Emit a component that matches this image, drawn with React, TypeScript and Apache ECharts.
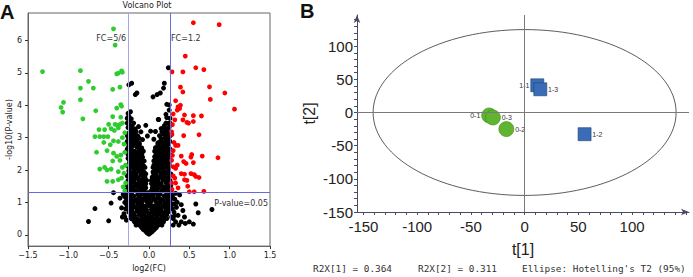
import React, { useEffect, useRef } from "react";
import * as echarts from "echarts";

// ---------- Panel A: volcano plot data (log2 FC, -log10 P) ----------
const volcanoYTicks = [0, 1, 2, 3, 4, 5, 6];
const fcDown = -0.263; // log2(5/6)
const fcUp = 0.263; // log2(1.2)
const pCut = 1.301; // -log10(0.05)

const blackPts: [number, number][] = [
  [0.0, 0.02], [-0.02, 0.05], [0.02, 0.06], [-0.04, 0.1], [0.04, 0.1], [0.0, 0.12], [-0.07, 0.16], [0.06, 0.15], [-0.02, 0.18], [0.03, 0.2], [-0.09, 0.22], [0.09, 0.22], [-0.05, 0.25], [0.05, 0.26], [0.0, 0.28], [-0.11, 0.28], [0.11, 0.29],
  [-0.14, 0.32], [0.13, 0.33], [-0.08, 0.34], [0.08, 0.35], [-0.03, 0.36], [0.02, 0.38], [-0.16, 0.38], [0.16, 0.39], [-0.11, 0.41], [0.11, 0.42], [-0.06, 0.44], [0.06, 0.44], [-0.19, 0.45], [0.18, 0.45], [0.0, 0.47], [-0.14, 0.48], [0.14, 0.49], [-0.09, 0.51], [0.09, 0.52], [-0.21, 0.53], [0.2, 0.53], [-0.03, 0.55], [0.04, 0.56], [-0.17, 0.57], [0.16, 0.58],
  [-0.23, 0.61], [0.22, 0.61], [-0.12, 0.62], [0.12, 0.63], [-0.06, 0.64], [0.07, 0.65], [0.0, 0.66], [-0.19, 0.67], [0.18, 0.68], [-0.25, 0.7], [0.24, 0.71], [-0.15, 0.72], [0.15, 0.73], [-0.09, 0.74], [0.09, 0.75], [-0.03, 0.77], [0.03, 0.78], [-0.21, 0.79], [0.21, 0.8], [-0.27, 0.82], [0.26, 0.82], [-0.12, 0.83], [0.12, 0.84], [-0.17, 0.86], [0.17, 0.87], [-0.06, 0.88], [0.06, 0.89], [0.0, 0.9], [-0.24, 0.91], [0.24, 0.92], [-0.28, 0.95], [0.28, 0.95], [-0.14, 0.96], [0.14, 0.97], [-0.2, 0.98], [0.2, 0.99],
  [-0.09, 1.0], [0.09, 1.01], [-0.03, 1.03], [0.03, 1.04], [-0.26, 1.05], [0.26, 1.05], [-0.17, 1.07], [0.17, 1.08], [-0.22, 1.1], [0.22, 1.11], [-0.11, 1.12], [0.11, 1.13], [-0.29, 1.15], [0.29, 1.14], [-0.05, 1.16], [0.05, 1.17], [-0.19, 1.19], [0.19, 1.2], [-0.25, 1.22], [0.25, 1.23], [-0.14, 1.24], [0.14, 1.25], [-0.08, 1.27], [0.08, 1.28], [-0.28, 1.3], [0.27, 1.3], [-0.21, 1.32], [0.21, 1.33], [-0.02, 1.3], [0.02, 1.34], [-0.16, 1.36], [0.16, 1.37], [-0.1, 1.39], [0.1, 1.4], [-0.25, 1.4], [0.24, 1.41],
  [-0.07, 1.43], [-0.13, 1.45], [-0.19, 1.47], [-0.23, 1.5], [-0.27, 1.52], [-0.09, 1.55], [-0.16, 1.57], [-0.21, 1.6], [-0.26, 1.62], [-0.06, 1.64], [-0.12, 1.66], [-0.18, 1.69], [-0.24, 1.72], [-0.08, 1.74], [-0.14, 1.77], [-0.2, 1.8], [-0.27, 1.82], [-0.1, 1.85], [-0.16, 1.88], [-0.22, 1.91], [-0.06, 1.93], [-0.13, 1.96], [-0.25, 1.98],
  [0.06, 1.44], [0.12, 1.46], [0.18, 1.48], [0.23, 1.51], [0.27, 1.53], [0.08, 1.56], [0.15, 1.58], [0.21, 1.61], [0.25, 1.63], [0.05, 1.65], [0.11, 1.67], [0.17, 1.7], [0.23, 1.73], [0.07, 1.75], [0.13, 1.78], [0.19, 1.81], [0.26, 1.83], [0.09, 1.86], [0.15, 1.89], [0.21, 1.92], [0.05, 1.94], [0.12, 1.97], [0.24, 1.99],
  [-0.09, 2.02], [-0.15, 2.05], [-0.21, 2.08], [-0.26, 2.11], [-0.07, 2.14], [-0.12, 2.17], [-0.18, 2.2], [-0.23, 2.23], [-0.1, 2.27], [-0.16, 2.3], [-0.21, 2.33], [-0.26, 2.36], [-0.08, 2.4], [-0.13, 2.43], [-0.19, 2.46], [-0.24, 2.5], [-0.11, 2.54], [-0.17, 2.57], [-0.22, 2.61], [-0.27, 2.64], [-0.09, 2.68], [-0.15, 2.71], [-0.2, 2.75], [-0.25, 2.78],
  [0.08, 2.03], [0.14, 2.06], [0.2, 2.09], [0.25, 2.12], [0.06, 2.15], [0.11, 2.18], [0.17, 2.21], [0.22, 2.24], [0.09, 2.28], [0.15, 2.31], [0.2, 2.34], [0.25, 2.37], [0.07, 2.41], [0.12, 2.44], [0.18, 2.47], [0.23, 2.51], [0.1, 2.55], [0.16, 2.58], [0.21, 2.62], [0.26, 2.65], [0.08, 2.69], [0.14, 2.72], [0.19, 2.76], [0.24, 2.79],
  [-0.12, 2.83], [-0.18, 2.86], [-0.24, 2.9], [-0.08, 2.94], [-0.21, 2.98], [-0.26, 3.02], [-0.14, 3.05], [-0.19, 3.1], [-0.25, 3.14], [-0.1, 3.18], [-0.23, 3.22], [-0.17, 3.27], [-0.26, 3.31], [-0.21, 3.36], [-0.25, 3.42], [-0.13, 3.34], [-0.24, 3.5], [-0.22, 3.58], [-0.25, 3.66], [-0.26, 3.75], [-0.23, 3.8],
  [0.11, 2.84], [0.17, 2.87], [0.23, 2.91], [0.06, 2.95], [0.2, 2.99], [0.25, 3.03], [0.13, 3.06], [0.18, 3.11], [0.24, 3.15], [0.08, 3.19], [0.22, 3.23], [0.15, 3.28], [0.25, 3.32], [0.19, 3.37], [0.24, 3.44], [0.12, 3.56], [0.22, 3.62], [0.21, 3.72], [0.25, 3.85], [-0.04, 3.38], [0.02, 3.2], [-0.02, 3.05],
  [0.24, 5.16], [-0.215, 4.68], [-0.25, 4.63], [-0.15, 4.38], [-0.17, 4.33], [0.19, 4.68], [0.18, 4.53], [0.14, 4.38], [0.1, 4.33], [0.05, 4.26], [0.22, 4.03], [0.115, 3.56], [0.25, 4.01],
  [-0.44, 1.3], [-0.47, 0.98], [-0.67, 0.81], [-0.5, 0.43], [-0.75, 0.41], [-0.36, 1.13], [-0.34, 0.83], [-0.31, 0.65], [-0.33, 0.55], [-0.3, 1.0], [-0.32, 1.25],
  [0.38, 1.23], [0.4, 0.93], [0.58, 0.95], [0.61, 0.68], [0.5, 0.4], [0.55, 0.33], [0.78, 0.78], [0.32, 1.1], [0.34, 0.85], [0.31, 0.7], [0.36, 0.6], [0.44, 0.55], [0.3, 0.5], [0.42, 0.75], [0.33, 1.28], [0.35, 1.0], [0.3, 0.3],
];

// Second batch of non-significant genes filling the dense core of the cloud
const blackCorePts: [number, number][] = [
  [-0.22, 1.45], [-0.1, 1.45], [-0.04, 1.45], [0.04, 1.45], [0.09, 1.45], [0.21, 1.45],
  [-0.15, 1.52], [-0.05, 1.52], [0.05, 1.52], [0.14, 1.52],
  [-0.24, 1.58], [-0.12, 1.58], [-0.04, 1.58], [0.03, 1.58], [0.11, 1.58], [0.24, 1.58],
  [-0.26, 1.68], [-0.21, 1.68], [-0.09, 1.68], [-0.03, 1.68], [0.03, 1.68], [0.08, 1.68], [0.2, 1.68], [0.26, 1.68],
  [-0.24, 1.78], [-0.17, 1.78], [-0.05, 1.78], [0.04, 1.78], [0.1, 1.78], [0.16, 1.78], [0.24, 1.78],
  [-0.25, 1.88], [-0.19, 1.88], [-0.08, 1.88], [-0.04, 1.88], [0.06, 1.88], [0.18, 1.88], [0.24, 1.88], [0.27, 1.88],
  [-0.19, 1.98], [-0.09, 1.98], [0.08, 1.98], [0.18, 1.98],
  [-0.24, 2.08], [-0.18, 2.08], [-0.11, 2.08], [-0.05, 2.08], [0.05, 2.08], [0.11, 2.08], [0.17, 2.08], [0.23, 2.08],
  [-0.25, 2.18], [-0.2, 2.18], [-0.15, 2.18], [-0.09, 2.18], [0.08, 2.18], [0.14, 2.18], [0.2, 2.18], [0.25, 2.18],
  [-0.24, 2.28], [-0.19, 2.28], [-0.13, 2.28], [-0.06, 2.28], [0.06, 2.28], [0.12, 2.28], [0.18, 2.28], [0.23, 2.28],
  [-0.22, 2.38], [-0.17, 2.38], [-0.11, 2.38], [0.1, 2.38], [0.16, 2.38], [0.21, 2.38],
  [-0.26, 2.48], [-0.21, 2.48], [-0.15, 2.48], [-0.09, 2.48], [0.09, 2.48], [0.14, 2.48], [0.21, 2.48], [0.26, 2.48],
  [-0.24, 2.58], [-0.19, 2.58], [-0.13, 2.58], [-0.07, 2.58], [0.07, 2.58], [0.13, 2.58], [0.19, 2.58], [0.24, 2.58],
  [-0.26, 2.68], [-0.22, 2.68], [-0.12, 2.68], [0.11, 2.68], [0.17, 2.68], [0.22, 2.68],
  [-0.22, 2.78], [-0.17, 2.78], [-0.12, 2.78], [0.11, 2.78], [0.17, 2.78], [0.21, 2.78],
  [-0.27, 2.88], [-0.21, 2.88], [-0.15, 2.88], [0.14, 2.88], [0.2, 2.88], [0.26, 2.88],
  [-0.24, 2.98], [-0.17, 2.98], [-0.12, 2.98], [0.15, 2.98], [0.23, 2.98],
  [-0.22, 3.08], [-0.27, 3.08], [0.21, 3.08], [0.27, 3.08],
  [-0.21, 3.18], [-0.16, 3.18], [0.16, 3.18], [0.21, 3.18],
  [-0.24, 3.28], [-0.2, 3.28], [0.2, 3.28], [0.23, 3.28],
  [-0.27, 3.45], [-0.19, 3.45], [0.21, 3.45], [0.26, 3.45],
  [-0.27, 3.6], [0.26, 3.6],
  [-0.02, 0.08], [0.02, 0.08], [-0.06, 0.18], [0.07, 0.18],
  [-0.16, 0.3], [-0.05, 0.3], [0.04, 0.3], [0.16, 0.3],
  [-0.18, 0.4], [-0.05, 0.4], [0.05, 0.4], [0.18, 0.4],
  [-0.22, 0.5], [-0.17, 0.5], [-0.05, 0.5], [0.04, 0.5], [0.17, 0.5], [0.22, 0.5],
  [-0.2, 0.6], [-0.09, 0.6], [0.0, 0.6], [0.1, 0.6], [0.2, 0.6],
  [-0.22, 0.7], [-0.12, 0.7], [-0.05, 0.7], [0.04, 0.7], [0.12, 0.7], [0.21, 0.7],
  [-0.24, 0.8], [-0.15, 0.8], [-0.08, 0.8], [0.08, 0.8], [0.15, 0.8], [0.24, 0.8],
  [-0.27, 0.9], [-0.2, 0.9], [-0.1, 0.9], [-0.03, 0.9], [0.03, 0.9], [0.1, 0.9], [0.2, 0.9], [0.27, 0.9],
  [-0.24, 1.0], [-0.14, 1.0], [0.0, 1.0], [0.14, 1.0], [0.24, 1.0],
  [-0.27, 1.1], [-0.14, 1.1], [-0.07, 1.1], [0.0, 1.1], [0.07, 1.1], [0.14, 1.1], [0.26, 1.1],
  [-0.28, 1.2], [-0.22, 1.2], [-0.11, 1.2], [-0.02, 1.2], [0.02, 1.2], [0.11, 1.2], [0.22, 1.2], [0.28, 1.2],
  [-0.24, 1.3], [-0.12, 1.3], [-0.05, 1.3], [0.05, 1.3], [0.12, 1.3], [0.24, 1.3],
  [-0.28, 1.38], [-0.2, 1.38], [-0.06, 1.38], [0.06, 1.38], [0.2, 1.38], [0.28, 1.38],
  [0.29, 1.2], [0.31, 0.95], [0.29, 0.8], [0.32, 0.6], [0.28, 0.55], [0.33, 0.4], [0.4, 0.4], [0.37, 0.3], [0.45, 0.35],
  [-0.29, 0.8], [-0.3, 0.55], [-0.28, 0.45], [-0.29, 1.3], [-0.31, 1.2],
];

const greenPts: [number, number][] = [
  [-0.44, 6.36], [-0.42, 5.86], [-1.32, 5.04], [-0.85, 5.07], [-0.4, 4.97], [-0.38, 4.99], [-0.34, 5.06], [-0.33, 5.02], [-0.75, 4.74], [-0.85, 4.53], [-0.69, 4.53], [-0.45, 4.49], [-0.36, 4.56], [-0.85, 4.17], [-1.06, 4.09], [-1.09, 3.93], [-1.07, 3.79], [-0.66, 3.83], [-0.4, 3.91], [-0.35, 4.02], [-0.34, 3.97], [-0.82, 3.58], [-0.45, 3.65], [-0.35, 3.63], [-0.5, 3.41], [-0.42, 3.41], [-0.36, 3.41], [-0.39, 3.38], [-0.33, 3.45],
  [-0.62, 3.25], [-0.55, 3.25], [-0.47, 3.28], [-0.43, 3.22], [-0.38, 3.3], [-0.67, 3.03], [-0.61, 3.03], [-0.56, 3.03], [-0.51, 3.03], [-0.44, 2.9], [-0.38, 2.88], [-0.33, 3.0], [-0.3, 3.15], [-0.56, 2.85], [-0.48, 2.78], [-0.31, 2.8], [-0.65, 2.55], [-0.52, 2.6], [-0.44, 2.52], [-0.4, 2.42], [-0.35, 2.46], [-0.3, 2.55], [-0.36, 2.3], [-0.45, 2.28], [-0.61, 2.03], [-0.55, 2.08], [-0.52, 2.0], [-0.47, 2.03], [-0.33, 2.08], [-0.29, 2.15], [-0.38, 1.95], [-0.31, 1.9], [-0.52, 1.65], [-0.45, 1.65], [-0.38, 1.7], [-0.32, 1.48], [-0.3, 1.36], [-0.34, 1.75], [-0.29, 1.6],
];

const redPts: [number, number][] = [
  [0.55, 6.55], [0.87, 6.49], [0.45, 5.52], [0.58, 5.16], [0.68, 5.1], [0.285, 5.03], [0.42, 5.03], [0.39, 4.56], [0.42, 4.41], [0.75, 4.57], [0.94, 4.38], [0.76, 4.18], [0.33, 4.14], [1.06, 3.88], [0.36, 3.95], [0.38, 3.9], [0.35, 3.85], [0.39, 4.0], [0.3, 3.73], [0.44, 3.7], [0.55, 3.68], [0.65, 3.67], [0.42, 3.55], [0.47, 3.47], [0.49, 3.45], [0.55, 3.5], [0.29, 3.4], [0.32, 3.55],
  [0.28, 3.18], [0.285, 3.1], [0.43, 3.06], [0.62, 3.09], [0.33, 2.76], [0.31, 2.85], [0.36, 2.76], [0.4, 2.43], [0.53, 2.48], [0.52, 2.4], [0.66, 2.43], [0.855, 2.38], [0.43, 2.26], [0.46, 2.2], [0.55, 2.23], [0.3, 2.1], [0.33, 2.05], [0.4, 1.89], [0.44, 1.87], [0.52, 1.89], [0.56, 1.86], [0.58, 1.8], [0.62, 1.77], [0.3, 1.82], [0.32, 1.75], [0.47, 1.68], [0.44, 1.7], [0.28, 1.6], [0.33, 1.6], [0.48, 1.5], [0.5, 1.33], [0.56, 1.33], [0.68, 1.34], [0.285, 1.4], [0.29, 2.45], [0.28, 2.3], [0.3, 2.6], [0.35, 2.15], [0.36, 1.45],
];

// ---------- Panel B: PCA score plot ----------
const pcaTickLabels = [-150, -100, -50, 0, 50, 100];
const pcaMinorTicks = [-150, -140, -130, -120, -110, -100, -90, -80, -70, -60, -50, -40, -30, -20, -10, 0, 10, 20, 30, 40, 50, 60, 70, 80, 90, 100, 110, 120, 130, 140, 150];
const group0Names = ["0-1", "0-3", "0-2"];
const group0Pts: [number, number][] = [[-33, -4.5], [-29.5, -7.5], [-17, -25]];
const group0LabelPos = ["left", "right", "right"];
const group1Names = ["1-1", "1-3", "1-2"];
const group1Pts: [number, number][] = [[11.8, 41], [14.6, 35], [55.8, -32.7]];
const group1LabelPos = ["left", "right", "right"];
const hotellingEllipse: [number, number, number, number][] = [[0, 0, 141, 125]]; // cx, cy, rx, ry
const r2x = [0.364, 0.311];

export default function App() {
  const ref = useRef<HTMLDivElement>(null);
  useEffect(() => {
    if (!ref.current) return;
    const chart = echarts.init(ref.current, null, { renderer: "svg" });
    const fA = "DejaVu Sans";
    const fB = "Liberation Sans";
    const axisB = "#4a4a60";
    const option: any = {
      animation: false,
      backgroundColor: "#fff",
      grid: [
        { left: 28, right: 423, top: 13, bottom: 25, show: true, borderColor: "#666", borderWidth: 1, backgroundColor: "transparent" },
        { left: 357, right: 4, top: 15, height: 197 },
      ],
      xAxis: [
        {
          gridIndex: 0, type: "value", min: -1.5, max: 1.5, interval: 0.5,
          axisLine: { show: true, onZero: false, lineStyle: { color: "#666" } },
          axisTick: { show: true, inside: false, length: 3, lineStyle: { color: "#333" } },
          axisLabel: { fontSize: 8, fontFamily: fA, color: "#222", margin: 5, formatter: (v: number) => v.toFixed(1).replace("-", "\u2212"), showMinLabel: true, showMaxLabel: true },
          splitLine: { show: false },
          name: "log2(FC)", nameLocation: "middle", nameGap: 16,
          nameTextStyle: { fontSize: 8, fontFamily: fA, color: "#222" },
        },
        {
          gridIndex: 1, type: "value", min: -156, max: 153,
          axisLine: { show: true, onZero: false, symbol: ["none", "arrow"], symbolSize: [5, 8], lineStyle: { color: axisB, width: 1 } },
          axisTick: { show: true, length: 3, customValues: pcaMinorTicks, lineStyle: { color: axisB } },
          axisLabel: { fontSize: 15, fontFamily: fB, color: "#222", margin: 7, customValues: pcaTickLabels },
          splitLine: { show: false },
          name: "t[1]", nameLocation: "middle", nameGap: 29,
          nameTextStyle: { fontSize: 16, fontFamily: fB, color: "#222" },
        },
      ],
      yAxis: [
        {
          gridIndex: 0, type: "value", min: -0.35, max: 6.85,
          axisLine: { show: true, onZero: false, lineStyle: { color: "#666" } },
          axisTick: { show: true, inside: false, length: 3, customValues: volcanoYTicks, lineStyle: { color: "#333" } },
          axisLabel: { fontSize: 8, fontFamily: fA, color: "#222", margin: 6, customValues: volcanoYTicks },
          splitLine: { show: false },
          name: "-log10(P-value)", nameLocation: "middle", nameGap: 13,
          nameTextStyle: { fontSize: 8, fontFamily: fA, color: "#222" },
        },
        {
          gridIndex: 1, type: "value", min: -150, max: 147,
          axisLine: { show: true, onZero: false, symbol: ["none", "arrow"], symbolSize: [5, 8], lineStyle: { color: axisB, width: 1 } },
          axisTick: { show: true, length: 3, customValues: pcaMinorTicks.filter((v) => v <= 140), lineStyle: { color: axisB } },
          axisLabel: { fontSize: 15, fontFamily: fB, color: "#222", margin: 4, customValues: pcaTickLabels },
          splitLine: { show: false },
          name: "t[2]", nameLocation: "middle", nameGap: 40,
          nameTextStyle: { fontSize: 16, fontFamily: fB, color: "#222" },
        },
      ],
      series: [
        {
          type: "scatter", xAxisIndex: 0, yAxisIndex: 0, data: blackPts.concat(blackCorePts), symbolSize: 5,
          itemStyle: { color: "#000", opacity: 1 }, silent: true, large: false,
          markLine: {
            silent: true, symbol: "none", label: { show: false },
            data: [
              { xAxis: fcDown, lineStyle: { color: "#a4a4f2", width: 1, type: "solid" } },
              { xAxis: fcUp, lineStyle: { color: "#6a6ae0", width: 1, type: "solid" } },
              { yAxis: pCut, lineStyle: { color: "#6a6ae0", width: 1, type: "solid" } },
            ],
          },
        },
        { type: "scatter", xAxisIndex: 0, yAxisIndex: 0, data: greenPts, symbolSize: 4.8, itemStyle: { color: "#2fcc2f", opacity: 1 }, silent: true },
        { type: "scatter", xAxisIndex: 0, yAxisIndex: 0, data: redPts, symbolSize: 4.8, itemStyle: { color: "#ff0000", opacity: 1 }, silent: true },
        {
          type: "custom", xAxisIndex: 1, yAxisIndex: 1, data: hotellingEllipse, silent: true,
          renderItem: (params: any, api: any) => {
            const c = api.coord([api.value(0), api.value(1)]);
            const s = api.size([api.value(2), api.value(3)]);
            return {
              type: "ellipse",
              shape: { cx: c[0], cy: c[1], rx: s[0], ry: s[1] },
              style: { fill: "none", stroke: "#333", lineWidth: 0.8 },
            };
          },
          markLine: {
            silent: true, symbol: "none", label: { show: false },
            lineStyle: { color: "#7a7a7a", width: 1, type: "solid" },
            data: [{ xAxis: 0 }, { yAxis: 0 }],
          },
        },
        {
          type: "scatter", xAxisIndex: 1, yAxisIndex: 1, symbol: "circle", symbolSize: 15,
          itemStyle: { color: "#5fb530", borderColor: "#3f8a22", borderWidth: 0.6, opacity: 1 },
          data: group0Pts.map((p, i) => ({ name: group0Names[i], value: p, label: { position: group0LabelPos[i] } })),
          label: { show: true, formatter: "{b}", fontSize: 7, fontFamily: fB, color: "#333", distance: 1 },
        },
        {
          type: "scatter", xAxisIndex: 1, yAxisIndex: 1, symbol: "rect", symbolSize: 13,
          itemStyle: { color: "#3a6db5", borderColor: "#1e3f75", borderWidth: 0.6, opacity: 1 },
          data: group1Pts.map((p, i) => ({ name: group1Names[i], value: p, label: { position: group1LabelPos[i] } })),
          label: { show: true, formatter: "{b}", fontSize: 7, fontFamily: fB, color: "#333", distance: 1 },
        },
      ],
      graphic: [
        { type: "text", left: 0, top: 2, style: { text: "A", font: "bold 20px Liberation Sans", fill: "#111" } },
        { type: "text", left: 300, top: 1, style: { text: "B", font: "bold 20px Liberation Sans", fill: "#111" } },
        { type: "text", x: 147, y: 5, style: { text: "Volcano Plot", font: "8px DejaVu Sans", fill: "#222", align: "center", verticalAlign: "middle" } },
        { type: "text", x: 126, y: 38, style: { text: "FC=5/6", font: "8px DejaVu Sans", fill: "#333", align: "right", verticalAlign: "middle" } },
        { type: "text", x: 171, y: 38, style: { text: "FC=1.2", font: "8px DejaVu Sans", fill: "#333", align: "left", verticalAlign: "middle" } },
        { type: "text", x: 268, y: 203, style: { text: "P-value=0.05", font: "8px DejaVu Sans", fill: "#333", align: "right", verticalAlign: "middle" } },
        { type: "text", x: 313, y: 268, style: { text: `R2X[1] = ${r2x[0].toFixed(3)}`, font: "9.4px DejaVu Sans Mono", fill: "#333", verticalAlign: "middle" } },
        { type: "text", x: 418, y: 268, style: { text: `R2X[2] = ${r2x[1].toFixed(3)}`, font: "9.4px DejaVu Sans Mono", fill: "#333", verticalAlign: "middle" } },
        { type: "text", x: 522, y: 268, style: { text: "Ellipse: Hotelling's T2 (95%)", font: "9.4px DejaVu Sans Mono", fill: "#333", verticalAlign: "middle" } },
      ],
    };
    chart.setOption(option);
    return () => chart.dispose();
  }, []);
  return <div ref={ref} style={{ position: "fixed", left: 0, top: 0, width: 693, height: 277, background: "#fff" }} />;
}
